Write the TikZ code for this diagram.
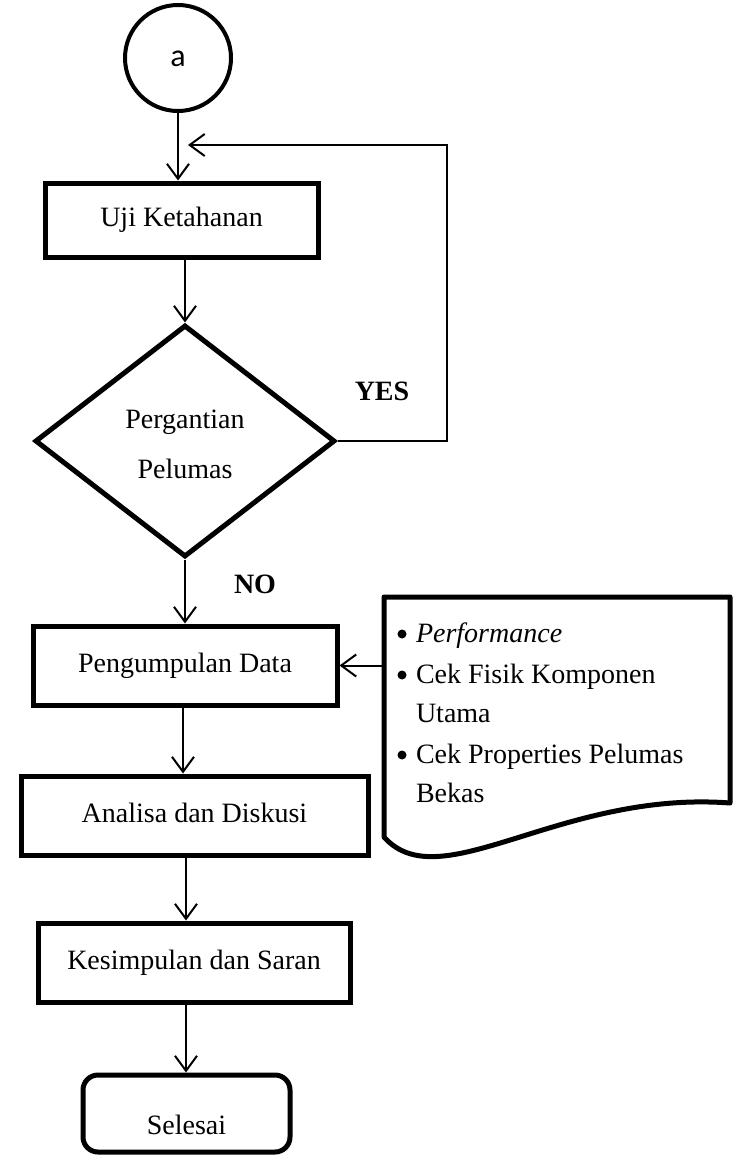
\documentclass[tikz,border=0pt]{standalone}
\usepackage{fontspec}
\setmainfont{Liberation Serif}
\newfontfamily\carlitofont{Carlito}
\usetikzlibrary{arrows.meta,shapes.geometric}
\begin{document}
\begin{tikzpicture}[x=1pt,y=-1pt,
  every node/.style={font=\fontsize{28}{34}\selectfont},
  box/.style={draw,line width=5pt,rectangle,inner sep=0pt,text height=19.6pt,text depth=6pt},
  conn/.style={line width=2pt,-{Straight Barb[length=15pt,width=22pt,line width=2pt]}},
  plain/.style={inner sep=0pt,outer sep=0pt},
  bold/.style={inner sep=0pt,font=\fontsize{28}{34}\selectfont\bfseries},
  bul/.style={fill,circle,inner sep=0pt,minimum size=9pt}
]
\useasboundingbox (0,0) rectangle (733,1159);

% start connector
\node[draw,circle,line width=4pt,minimum size=106pt,inner sep=0pt] (a) at (178,58) {};
\node[plain,anchor=base,font=\fontsize{32}{36}\carlitofont] (atext) at (178,66) {a};

% boxes
\node[box,minimum width=273pt,minimum height=74pt] (b1) at (181.5,220) {Uji Ketahanan};
\node[draw,diamond,line width=5pt,inner sep=0pt,minimum width=300pt,minimum height=232pt] (d) at (185,441) {};
\node[plain,anchor=base] (dt1) at (185,428) {Pergantian};
\node[plain,anchor=base] (dt2) at (185,478) {Pelumas};
\node[bold,anchor=base] (yes) at (382,400) {YES};
\node[bold,anchor=base] (no) at (255,593) {NO};

\node[box,minimum width=304pt,minimum height=79pt] (b2) at (185,665.5) {Pengumpulan Data};
\node[box,minimum width=347pt,minimum height=79pt] (b3) at (194.5,815.5) {Analisa dan Diskusi};
\node[box,minimum width=312pt,minimum height=79pt] (b4) at (194,962.5) {Kesimpulan dan Saran};
\node[draw,rectangle,rounded corners=15pt,line width=5pt,inner sep=0pt,text height=19.6pt,text depth=6pt,
      minimum width=207pt,minimum height=77pt] (t) at (186.5,1113.5) {\raisebox{-14pt}{Selesai}};

% document shape
\node[plain,minimum width=346pt,minimum height=240pt,anchor=north west] (doc) at (384,597) {};
\draw[line width=5pt,line join=round]
  (doc.north west) -- (730,597) -- (730,803)
  .. controls (560,790) and (440,900) .. (384,837) -- cycle;
\node[bul] (bu1) at (402,634) {};
\node[plain,anchor=base west] (l1) at (416,642) {\textit{Performance}};
\node[bul] (bu2) at (402,675) {};
\node[plain,anchor=base west] (l2) at (416,683) {Cek Fisik Komponen};
\node[plain,anchor=base west] (l3) at (416,722) {Utama};
\node[bul] (bu3) at (402,755) {};
\node[plain,anchor=base west] (l4) at (416,763) {Cek Properties Pelumas};
\node[plain,anchor=base west] (l5) at (416,802) {Bekas};

% connectors
\coordinate (loopend) at (188,145);
\coordinate (loopcorner) at (447,145);
\draw[conn] (a.south) -- (a.south |- b1.north);
\draw[conn] (d.east) -| (loopcorner) -- (loopend);
\draw[conn] (b1.south -| d.north) -- (d.north);
\draw[conn] (d.south) -- (b2.north);
\draw[conn] (doc.west |- b2.east) -- (b2.east);
\draw[conn] (b2.south -| 183,0) -- (183,0 |- b3.north);
\draw[conn] (b3.south -| 186,0) -- (186,0 |- b4.north);
\draw[conn] (b4.south -| 186,0) -- (186,0 |- t.north);
\end{tikzpicture}
\end{document}
